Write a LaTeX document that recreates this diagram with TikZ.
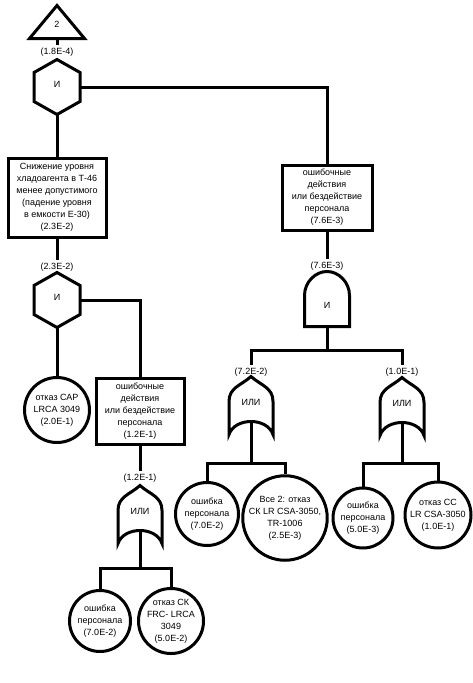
\documentclass[tikz,border=0pt]{standalone}
\usepackage{fontspec}
\setmainfont{Liberation Sans}
\usetikzlibrary{calc}

\newcommand{\hexshape}[1]{%
  \draw [gate] (#1.north) -- ([yshift=-13pt]#1.north east) -- ([yshift=13pt]#1.south east)
    -- (#1.south) -- ([yshift=13pt]#1.south west) -- ([yshift=-13pt]#1.north west) -- cycle;}
\newcommand{\andshape}[1]{%
  \draw [gate] (#1.south west) -- ([yshift=-24pt]#1.north west)
    .. controls +(0pt,13.5pt) and +(-11.5pt,0pt) .. (#1.north)
    .. controls +(11.5pt,0pt) and +(0pt,13.5pt) .. ([yshift=-24pt]#1.north east)
    -- (#1.south east) -- cycle;}
\newcommand{\orshape}[1]{%
  \draw [gate] ([yshift=-13pt]#1.south west) -- ([yshift=-25pt]#1.north west)
    .. controls +(0pt,14pt) and +(-10pt,-9pt) .. (#1.north)
    .. controls +(10pt,-9pt) and +(0pt,14pt) .. ([yshift=-25pt]#1.north east)
    -- ([yshift=-13pt]#1.south east)
    .. controls +(-3pt,9pt) and +(9pt,0pt) .. (#1.south)
    .. controls +(-9pt,0pt) and +(3pt,9pt) .. ([yshift=-13pt]#1.south west) -- cycle;}

\begin{document}
\begin{tikzpicture}[x=1pt,y=-1pt,line width=3pt,
  every node/.style={font=\fontsize{9}{12}\selectfont, align=center},
  gate/.style={line width=3pt, line join=miter},
  hexgate/.style={inner sep=0pt, minimum width=43pt, minimum height=52pt, text height=0pt},
  andgate/.style={inner sep=0pt, minimum width=42pt, minimum height=52pt, text height=18pt},
  orgate/.style={inner sep=0pt, minimum width=41pt, minimum height=42pt, text height=14pt},
  transfer/.style={inner sep=0pt, minimum width=52pt, minimum height=30pt, text height=10pt},
  box/.style={draw, inner sep=2pt},
  event/.style={draw, circle, inner sep=0pt},
  prob/.style={inner sep=1pt}]

\useasboundingbox (0,0) rectangle (472,683);

\node [transfer] (t0) at (57,22) {2};
\node [prob] (l0) at (57,52) {(1.8E-4)};
\node [hexgate] (g1) at (57,87) {И};

\node [box, minimum width=98pt, minimum height=79pt] (b1) at (57,197.5)
  {Снижение уровня\\хладоагента в Т-46\\менее допустимого\\(падение уровня\\в емкости  Е-30)\\(2.3E-2)};
\node [prob] (l1) at (57,267) {(2.3E-2)};
\node [hexgate] (g2) at (57,300) {И};

\node [event, minimum size=65pt] (e1) at (57,410) {отказ  САР\\LRCA 3049\\(2.0E-1)};
\node [box, minimum width=88pt, minimum height=66pt] (b2) at (140,411)
  {ошибочные\\действия\\или бездействие\\персонала\\(1.2E-1)};
\node [prob] (l2) at (140,478) {(1.2E-1)};
\node [orgate] (g3) at (140,508) {ИЛИ};
\coordinate (j3) at (140,568);
\node [event, minimum size=61pt] (e2) at (100,621) {ошибка\\персонала\\(7.0E-2)};
\node [event, minimum size=64pt] (e3) at (171,621) {отказ  СК\\FRC- LRCA\\3049\\(5.0E-2)};

\node [box, minimum width=90pt, minimum height=65pt] (b3) at (327,197.5)
  {ошибочные\\действия\\или бездействие\\персонала\\(7.6E-3)};
\node [prob] (l3) at (327,266) {(7.6E-3)};
\node [andgate] (g4) at (327,299) {И};
\coordinate (j4) at (327,350);

\node [prob] (l4) at (251,372) {(7.2E-2)};
\node [orgate] (g5) at (251,399) {ИЛИ};
\coordinate (j5) at (251,463);
\node [event, minimum size=63pt] (e4) at (207,514) {ошибка\\персонала\\(7.0E-2)};
\node [event, minimum size=82pt] (e5) at (285,518) {Все 2: отказ\\СК LR CSA-3050,\\TR-1006\\(2.5E-3)};

\node [prob] (l5) at (402,372) {(1.0E-1)};
\node [orgate] (g6) at (402,400) {ИЛИ};
\coordinate (j6) at (402,463);
\node [event, minimum size=60pt] (e6) at (363,518) {ошибка\\персонала\\(5.0E-3)};
\node [event, minimum size=66pt] (e7) at (438,515) {отказ СС\\LR CSA-3050\\(1.0E-1)};

\draw [gate] (t0.south west) -- (t0.north) -- (t0.south east) -- cycle;
\hexshape{g1}
\hexshape{g2}
\andshape{g4}
\orshape{g3}
\orshape{g5}
\orshape{g6}

\draw (t0.south) -- (l0.north);
\draw (g1.south) -- (b1.north);
\draw (g1.east) -| (b3.north);
\draw (b1.south) -- (l1.north);
\draw (g2.south) -- (e1.north);
\draw (g2.east) -| (b2.north);
\draw (b2.south) -- (l2.north);
\draw (g3.south) -- (j3) -| (e2.north);
\draw (j3) -| (e3.north);
\draw (b3.south) -- (l3.north);
\draw (g4.south) -- (j4) -| (l4.north);
\draw (j4) -| (l5.north);
\draw (g5.south) -- (j5) -| (e4.north);
\draw (j5) -| (e5.north);
\draw (g6.south) -- (j6) -| (e6.north);
\draw (j6) -| (e7.north);

\end{tikzpicture}
\end{document}
